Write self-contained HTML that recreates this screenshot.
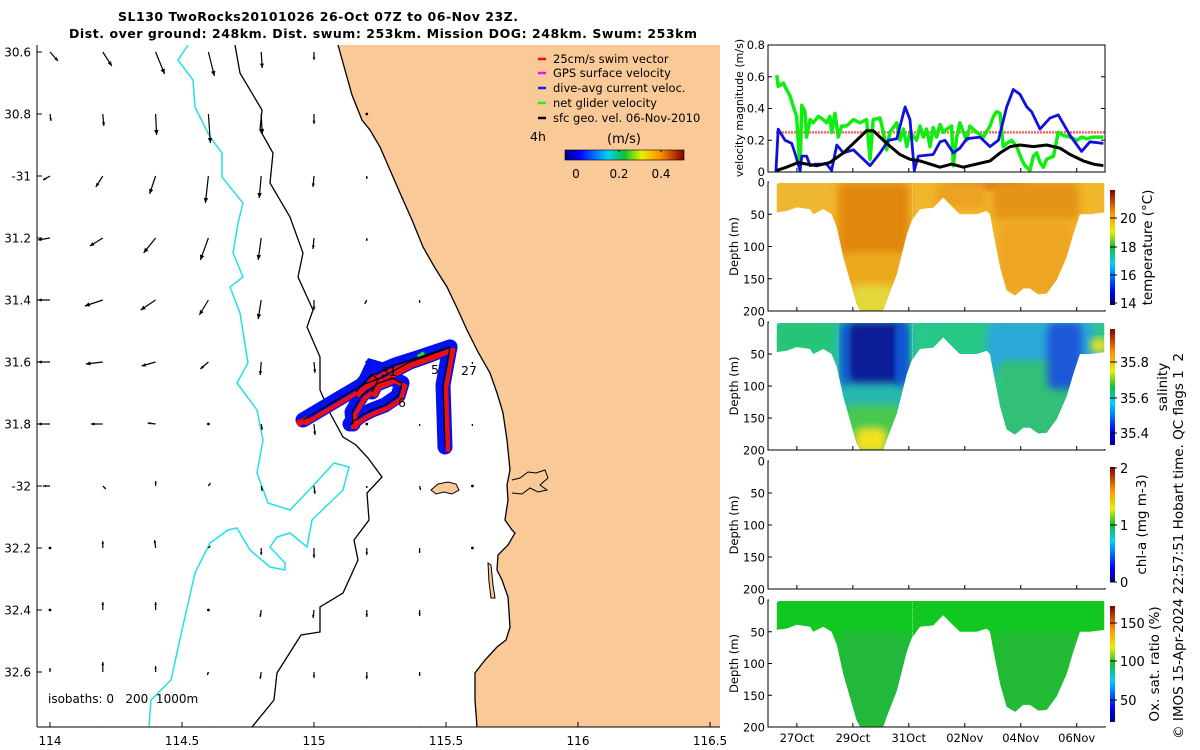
<!DOCTYPE html>
<html><head><meta charset="utf-8"><title>SL130 glider</title>
<style>
html,body{margin:0;padding:0;background:#fff;}
svg{display:block;font-family:"DejaVu Sans","Liberation Sans",sans-serif;}
</style></head>
<body>
<svg id="fig" xmlns="http://www.w3.org/2000/svg" width="1200" height="750" viewBox="0 0 1200 750">
<defs>
  <filter id="blur3" x="-20%" y="-20%" width="140%" height="140%"><feGaussianBlur stdDeviation="4"/></filter>
  <linearGradient id="jetV" x1="0" y1="1" x2="0" y2="0">
    <stop offset="0" stop-color="#00007f"/><stop offset="0.12" stop-color="#0000ff"/>
    <stop offset="0.36" stop-color="#00d0ff"/><stop offset="0.5" stop-color="#10c030"/>
    <stop offset="0.64" stop-color="#e8f000"/><stop offset="0.8" stop-color="#ff9000"/>
    <stop offset="1" stop-color="#800000"/>
  </linearGradient>
  <linearGradient id="jetH" x1="0" y1="0" x2="1" y2="0">
    <stop offset="0" stop-color="#00007f"/><stop offset="0.12" stop-color="#0000ff"/>
    <stop offset="0.36" stop-color="#00d0ff"/><stop offset="0.5" stop-color="#10c030"/>
    <stop offset="0.64" stop-color="#e8f000"/><stop offset="0.8" stop-color="#ff9000"/>
    <stop offset="1" stop-color="#800000"/>
  </linearGradient>
</defs>
<text x="318" y="21" font-size="12.5" font-weight="bold" text-anchor="middle" textLength="400">SL130 TwoRocks20101026 26-Oct 07Z to 06-Nov 23Z.</text>
<text x="383" y="38" font-size="12.5" font-weight="bold" text-anchor="middle" textLength="628">Dist. over ground: 248km. Dist. swum: 253km. Mission DOG: 248km. Swum: 253km</text>
<g id="map"></g>
<g id="right"></g>
</svg>
<script>
// ---------------- MAP DATA ----------------
const lonTicks = [114, 114.5, 115, 115.5, 116, 116.5];
const lonTickLabels = ["114", "114.5", "115", "115.5", "116", "116.5"];
const latTicks = [30.6, 30.8, 31.0, 31.2, 31.4, 31.6, 31.8, 32.0, 32.2, 32.4, 32.6];
const latTickLabels = ["30.6", "30.8", "-31", "31.2", "31.4", "31.6", "31.8", "-32", "32.2", "32.4", "32.6"];
const gridLons = [114, 114.2, 114.4, 114.6, 114.8, 115, 115.2, 115.4, 115.6];
const gridLats = [30.6, 30.8, 31.0, 31.2, 31.4, 31.6, 31.8, 32.0, 32.2, 32.4, 32.6, 32.78];
const gridU = [
 [8, 9, 9, 6, 1, 0, null, null, null],
 [1, 1, 1, 2, 1, 0, 0, null, null],
 [-7, -7, -6, -3, -2, -1, 0, null, null],
 [-12, -13, -12, -8, -3, -1, 0, null, null],
 [-12, -18, -15, -9, -3, 0, -2, 0, null],
 [-12, -17, -14, -8, -1, 1, 0, 0, 0],
 [-12, -12, -8, 0, 1, 1, 0, 0, 0],
 [-7, 3, 0, 2, 1, 1, 0, 1, 0],
 [0, 0, -1, 2, 0, 0, 0, 0, 0],
 [0, 0, 0, 0, -1, -1, 0, 0, null],
 [0, 0, 0, -1, -1, 0, 0, 0, null],
 [0, 0, 0, 0, 0, 0, 0, 0, null]
];
const gridV = [
 [-9, -14, -22, -24, -16, -8, null, null, null],
 [-7, -12, -21, -29, -20, -10, -1, null, null],
 [-4, -11, -18, -27, -22, -11, -3, null, null],
 [-2, -8, -15, -22, -22, -11, -3, null, null],
 [0, -6, -10, -15, -19, -10, -4, -3, null],
 [0, -2, -4, -7, -13, -11, 0, -2, -2],
 [0, 0, 1, -1, -6, -11, 0, -2, -2],
 [0, -3, 5, 3, -5, -8, -2, -4, -1],
 [-1, 7, 8, 2, -7, -10, -7, -5, -1],
 [-1, 8, 8, -1, -7, -8, -7, -6, null],
 [4, 10, 6, -3, -7, -6, -7, -4, null],
 [-1, -1, 0, 0, 0, 0, 0, 0, null]
];
// ---------------- VELOCITY PANEL DATA ----------------
const blueDays = [-0.56,-0.48,-0.24,-0.01,0.10,0.28,0.34,0.51,0.63,0.80,1.21,1.38,1.56,1.79,2.14,2.37,2.72,3.07,3.36,3.65,3.94,4.11,4.26,4.40,4.92,5.16,5.33,5.62,5.85,6.09,6.55,6.90,7.19,7.48,7.71,7.94,8.18,8.35,8.64,8.99,9.28,9.69,10.09,10.38,10.85];
const blueVals = [0,0.27,0.20,0.18,0.12,0.01,0.10,0.10,0.04,0.05,0.05,0.01,0.17,0.12,0.14,0.10,0.04,0.12,0.20,0.21,0.41,0.33,0.01,0.10,0.11,0.19,0.20,0.12,0.15,0.21,0.22,0.16,0.20,0.41,0.52,0.49,0.41,0.38,0.27,0.34,0.36,0.23,0.13,0.19,0.18];
const blackDays = [-0.53,-0.19,0.22,0.51,0.86,1.32,1.79,2.37,2.60,2.83,3.30,3.76,4.11,4.46,4.81,5.16,5.56,5.97,6.43,6.90,7.25,7.60,7.94,8.41,8.87,9.34,9.69,10.15,10.50,10.85];
const blackVals = [0.01,0.03,0.06,0.05,0.04,0.06,0.12,0.22,0.26,0.26,0.18,0.11,0.08,0.07,0.05,0.03,0.05,0.03,0.05,0.07,0.12,0.16,0.17,0.16,0.17,0.15,0.11,0.07,0.05,0.04];
const greenDays = [-0.53,-0.48,-0.30,-0.19,-0.07,0.05,0.16,0.28,0.34,0.45,0.51,0.63,0.74,0.92,1.09,1.21,1.32,1.38,1.50,1.61,1.73,1.90,2.14,2.37,2.60,2.72,2.83,3.07,3.18,3.30,3.41,3.65,3.76,3.88,4.00,4.11,4.34,4.46,4.58,4.69,4.81,4.92,5.04,5.16,5.27,5.39,5.56,5.62,5.74,5.85,5.97,6.09,6.20,6.43,6.67,6.90,7.02,7.13,7.25,7.36,7.48,7.65,7.83,8.00,8.12,8.29,8.41,8.53,8.64,8.76,8.87,9.11,9.28,9.46,9.69,9.92,10.09,10.26,10.50,10.85];
const greenVals = [0.61,0.54,0.56,0.52,0.48,0.41,0.35,0.01,0.42,0.38,0.22,0.33,0.31,0.35,0.33,0.31,0.35,0.25,0.37,0.22,0.29,0.29,0.33,0.31,0.33,0.08,0.33,0.34,0.25,0.14,0.25,0.31,0.20,0.27,0.16,0.25,0.20,0.29,0.22,0.27,0.16,0.28,0.22,0.30,0.25,0.27,0.29,0.04,0.22,0.31,0.25,0.20,0.29,0.25,0.22,0.29,0.35,0.38,0.37,0.16,0.18,0.20,0.16,0.08,0.04,0.01,0.10,0.12,0.06,0.03,0.08,0.10,0.25,0.23,0.22,0.20,0.22,0.21,0.22,0.22];
const swimSpeed = [0.25];
const velTicks = [0, 0.2, 0.4, 0.6, 0.8];
const velTickLabels = ["0", "0.2", "0.4", "0.6", "0.8"];
const dateTicks = [0.17, 2.12, 4.07, 6.02, 7.97, 9.92];
const dateLabels = ["27Oct", "29Oct", "31Oct", "02Nov", "04Nov", "06Nov"];
const depthTicks = [0, 50, 100, 150, 200];
const envDays = [-0.53,-0.19,0.16,0.63,0.74,1.09,1.38,1.56,1.79,2.02,2.25,2.37,3.18,3.30,3.65,4.00,4.17,4.46,4.92,5.27,5.62,5.85,6.43,6.78,6.90,7.02,7.25,7.48,7.77,8.06,8.29,8.58,8.87,9.22,9.57,9.80,10.03,10.38,10.91];
const envDepth = [47,45,39,42,50,42,50,70,117,153,189,199,199,184,143,81,60,42,40,24,40,50,50,45,50,80,132,168,176,165,165,174,173,152,116,81,50,50,47];

const NS = "http://www.w3.org/2000/svg";
function mk(tag, attrs, parent){ const e = document.createElementNS(NS, tag); for (const k in attrs) e.setAttribute(k, attrs[k]); parent.appendChild(e); return e; }
function txt(s, attrs, parent){ const e = mk("text", attrs, parent); e.textContent = s; return e; }

// ---------------- MAP ----------------
const map = document.getElementById("map");
const lonX = lon => 50 + (lon - 114) * 264;
const latY = lat => 52 + (lat - 30.6) * 310;
const MX0 = 37, MX1 = 720, MY0 = 45, MY1 = 727;
let el;
el = mk("rect", {x:MX0, y:MY0, width:MX1-MX0, height:MY1-MY0, fill:"#fff"}, map);


const cpm = mk("clipPath", {id:"mapclip"}, map);
mk("rect", {x:MX0, y:MY0, width:MX1-MX0, height:MY1-MY0}, cpm);
const mg = mk("g", {"clip-path":"url(#mapclip)"}, map);

const coast = [[338,45],[345,70],[352,95],[362,120],[370,130],[380,147],[390,170],[400,193],[412,220],[423,247],[435,268],[447,287],[457,308],[467,330],[478,352],[490,373],[497,393],[503,413],[507,440],[510,470],[507,485],[508,500],[505,520],[512,530],[515,533],[508,545],[498,555],[497,570],[502,580],[508,597],[510,627],[506,640],[497,647],[485,660],[475,673],[475,700],[477,727]];
const landPts = coast.concat([[720,727],[720,45]]).map(p=>p.join(",")).join(" ");
el = mk("polygon", {points:landPts, fill:"#f9c997", stroke:"none"}, mg);


el = mk("polyline", {points:coast.map(p=>p.join(",")).join(" "), fill:"none", stroke:"#000", "stroke-width":1.3}, mg);


el = mk("polyline", {points:"512,480 520,478 528,472 536,473 545,470 548,478 540,485 547,490 538,492 530,488 522,494 512,493", fill:"#f9c997", stroke:"#000", "stroke-width":1}, mg);


el = mk("polygon", {points:"431,490 438,484 448,482 456,484 459,490 452,494 444,492 436,494", fill:"#f9c997", stroke:"#000", "stroke-width":1}, mg);


el = mk("polygon", {points:"488,563 491,565 493,585 495,598 491,598 489,582", fill:"#f9c997", stroke:"#000", "stroke-width":1}, mg);



const iso1000 = [[188,45],[178,60],[193,80],[195,107],[210,137],[222,153],[222,177],[243,203],[238,223],[233,253],[243,277],[230,287],[240,313],[248,363],[237,383],[257,410],[263,440],[257,473],[268,503],[290,510],[312,487],[334,463],[349,467],[343,490],[312,520],[307,547],[290,533],[277,537],[270,547],[285,563],[285,570],[270,567],[250,550],[237,528],[228,530],[210,543],[195,573],[182,630],[171,680],[151,700],[149,727]];
el = mk("polyline", {points:iso1000.map(p=>p.join(",")).join(" "), fill:"none", stroke:"#22e0e8", "stroke-width":1.5}, mg);


const iso200 = [[235,45],[240,73],[262,110],[260,130],[273,153],[270,183],[290,217],[303,253],[298,277],[313,310],[307,327],[320,357],[320,390],[330,413],[343,437],[356,445],[368,458],[382,477],[367,493],[369,520],[354,540],[358,560],[343,593],[320,607],[320,632],[301,635],[277,673],[274,700],[252,727]];
el = mk("polyline", {points:iso200.map(p=>p.join(",")).join(" "), fill:"none", stroke:"#000", "stroke-width":1.3}, mg);



const arrows = mk("g", {}, mg);


for (let r = 0; r < gridLats.length; r++) {
  for (let c = 0; c < gridLons.length; c++) {
    const u = gridU[r][c], v = gridV[r][c];
    if (u === null) continue;
    const x0 = lonX(gridLons[c]), y0 = latY(gridLats[r]);
    const x1 = x0 + u, y1 = y0 - v;
    const len = Math.hypot(u, v);
    const g = mk("g", {}, arrows);
    
    
    if (len < 2) { mk("circle", {cx:x0, cy:y0, r:1.4, fill:"#000"}, g); continue; }
    mk("line", {x1:x0, y1:y0, x2:x1, y2:y1, stroke:"#000", "stroke-width":1.2}, g);
    const hs = Math.min(5, 1.5 + len * 0.18), ux = u/len, uy = -v/len;
    const bx = x1 - ux*hs, by = y1 - uy*hs;
    mk("polygon", {points:`${x1},${y1} ${bx - uy*hs*0.45},${by + ux*hs*0.45} ${bx + uy*hs*0.45},${by - ux*hs*0.45}`, fill:"#000"}, g);
  }
}

// glider track
const trk = mk("g", {}, mg);


const spines = [
  "303,420 340,398 362,385 380,378 410,362 430,355 450,347",
  "368,378 383,370 395,365 420,357 450,347",
  "450,347 443,385 445,447",
  "350,424 362,415 372,410 385,405 398,396 402,383 392,378 377,384 362,395 352,412 353,424",
  "356,392 366,380 372,374 378,380 372,392"
];
el = mk("polygon", {points:"352,392 368,358 382,362 372,392", fill:"#0010ee"}, trk);

spines.forEach(s => { el = mk("polyline", {points:s, fill:"none", stroke:"#0010ee", "stroke-width":15, "stroke-linejoin":"round", "stroke-linecap":"round"}, trk);  });
spines.forEach(s => { el = mk("polyline", {points:s, fill:"none", stroke:"#ee1010", "stroke-width":4.5, "stroke-linejoin":"round", "stroke-linecap":"round", transform:"translate(3,3)"}, trk);  });
el = mk("polyline", {points:"297,424 308,419", fill:"none", stroke:"#ee1010", "stroke-width":6}, trk);

el = mk("polyline", {points:"418,357 424,353", fill:"none", stroke:"#20e020", "stroke-width":4}, trk);

spines.forEach(s => { el = mk("polyline", {points:s, fill:"none", stroke:"#000", "stroke-width":1.2}, trk);  });
[["31",381,376],["6",398,407],["27",461,375],["5",431,374]].forEach(t => {
  el = txt(t[0], {x:t[1], y:t[2], "font-size":12.5, fill:"#000"}, mg);
  
  
});

// legend
const leg = mk("g", {}, map);


const legItems = [["25cm/s swim vector","#ee1010",63],["GPS surface velocity","#ee10ee",77],["dive-avg current veloc.","#1020ee",92],["net glider velocity","#20ee20",107],["sfc geo. vel. 06-Nov-2010","#000",122]];
legItems.forEach(it => {
  const g = mk("g", {}, leg);
  
  
  mk("line", {x1:538, y1:it[2]-4, x2:546, y2:it[2]-4, stroke:it[1], "stroke-width":2.5}, g);
  txt(it[0], {x:553, y:it[2], "font-size":11.5, fill:"#000"}, g);
});
el = txt("4h", {x:530, y:141, "font-size":12.5}, map);


el = txt("(m/s)", {x:624, y:143, "font-size":13, "text-anchor":"middle"}, map);


el = mk("rect", {x:565, y:150, width:119, height:10, fill:"url(#jetH)", stroke:"#000", "stroke-width":0.6}, map);


[["0",576],["0.2",619],["0.4",661]].forEach(t => {
  mk("line", {x1:t[1], y1:150, x2:t[1], y2:152, stroke:"#000"}, map);
  el = txt(t[0], {x:t[1], y:178, "font-size":12, "text-anchor":"middle"}, map);
  
  
});
el = txt("isobaths: 0\u00a0\u00a0 200\u00a0 1000m", {x:48, y:703, "font-size":12}, map);



mk("line", {x1:MX0, y1:MY0, x2:MX0, y2:MY1, stroke:"#000", "stroke-width":1}, map);
mk("line", {x1:MX0, y1:MY1, x2:MX1, y2:MY1, stroke:"#000", "stroke-width":1}, map);
latTicks.forEach((lat,i) => {
  const y = latY(lat);
  mk("line", {x1:MX0, y1:y, x2:MX0+5, y2:y, stroke:"#000"}, map);
  el = txt(latTickLabels[i], {x:31, y:y+4.5, "font-size":12, "text-anchor":"end"}, map);
  
  
});
lonTicks.forEach((lon,i) => {
  const x = lonX(lon);
  mk("line", {x1:x, y1:MY1, x2:x, y2:MY1-5, stroke:"#000"}, map);
  el = txt(lonTickLabels[i], {x:x, y:745, "font-size":12, "text-anchor":"middle"}, map);
  
  
});

// ---------------- RIGHT PANELS ----------------
const R = document.getElementById("right");
const PX0 = 768, PX1 = 1105;
const dX = d => 792 + 28.7 * d;
const panels = [
  {top:45, bot:172}, {top:182, bot:311}, {top:322, bot:450}, {top:461, bot:589}, {top:600, bot:727}
];
const velY = v => panels[0].bot - v / 0.8 * (panels[0].bot - panels[0].top);

function frame(p, name) {
  el = mk("rect", {x:PX0, y:p.top, width:PX1-PX0, height:p.bot-p.top, fill:"none", stroke:"#000", "stroke-width":1}, R);
  
  
}
const vp = panels[0];
const vg = mk("g", {}, R);


function series(days, vals, color, w, name) {
  const pts = days.map((d,i) => dX(d).toFixed(1) + "," + velY(vals[i]).toFixed(1)).join(" ");
  el = mk("polyline", {points:pts, fill:"none", stroke:color, "stroke-width":w, "stroke-linejoin":"round"}, vg);
  
  
}
el = mk("line", {x1:dX(-0.56), y1:velY(swimSpeed[0]), x2:dX(10.9), y2:velY(swimSpeed[0]), stroke:"#ff6060", "stroke-width":2.5, "stroke-dasharray":"2,1"}, vg);


series(greenDays, greenVals, "#10ee10", 3.5, "net-glider-velocity-series");
series(blueDays, blueVals, "#1010e0", 2.8, "dive-avg-current-series");
series(blackDays, blackVals, "#000", 3, "geostrophic-velocity-series");
frame(vp, "velocity-axes");
velTicks.forEach((v,i) => {
  const y = velY(v);
  mk("line", {x1:PX0, y1:y, x2:PX0+4, y2:y, stroke:"#000"}, R);
  mk("line", {x1:PX1, y1:y, x2:PX1-4, y2:y, stroke:"#000"}, R);
  el = txt(velTickLabels[i], {x:765, y:y+4, "font-size":11.5, "text-anchor":"end"}, R);
  
  
});
el = txt("velocity magnitude (m/s)", {x:0, y:0, "font-size":11, "text-anchor":"middle", transform:"translate(743,108) rotate(-90)"}, R);



function envClip(id, p) {
  const dY = z => p.top + z / 200 * (p.bot - p.top);
  const pts = [[dX(envDays[0]), p.top + 1], [dX(envDays[envDays.length-1]), p.top + 1]];
  for (let i = envDays.length - 1; i >= 0; i--) pts.push([dX(envDays[i]), dY(envDepth[i])]);
  const cp = mk("clipPath", {id:id}, R);
  mk("polygon", {points:pts.map(q=>q[0].toFixed(1)+","+q[1].toFixed(1)).join(" ")}, cp);
  return dY;
}
function blob(g, d0, d1, z0, z1, color, dY, blur) {
  const a = {x:dX(d0), y:dY(z0), width:dX(d1)-dX(d0), height:dY(z1)-dY(z0), fill:color, rx:8};
  if (blur) a.filter = "url(#blur3)";
  return mk("rect", a, g);
}
const tempBlobs = [[-0.6,11,0,200,"#f2b62a"],[1.6,4.1,0,115,"#e0880f"],[1.8,3.9,110,160,"#eca81e"],[2.1,3.5,160,205,"#e2d83a"],[5.4,8.2,0,12,"#d0661a"],[7.0,10.0,0,60,"#e49418"],[7.2,9.8,60,175,"#eea620"],[5.0,6.8,0,40,"#eca222"],[-0.6,1.4,0,50,"#f0b832"]];
const salBlobs = [[-0.6,11,0,200,"#30c490"],[-0.6,1.6,0,50,"#28c478"],[1.5,4.3,0,200,"#28b8b0"],[1.9,4.0,0,95,"#0c1a98"],[1.7,2.0,0,100,"#1050d8"],[3.6,4.0,0,100,"#1060e0"],[1.8,3.9,130,200,"#48c850"],[2.2,3.3,165,205,"#f2e020"],[4.3,7.0,0,55,"#28c888"],[6.8,10.5,0,80,"#2aa8d8"],[7.2,10.2,60,180,"#30c078"],[8.9,10.1,0,105,"#1c58d8"],[10.4,11,25,48,"#f0e020"]];
const oxyBlobs = [[-0.6,11,0,200,"#10c820"],[1.6,4.1,50,200,"#22b83a"],[7.0,10.0,50,180,"#22ba36"]];
function section(p, blobs, name, idn) {
  const dY = envClip(idn, p);
  const g = mk("g", {"clip-path":"url(#"+idn+")"}, R);
  
  
  blobs.forEach((b,i) => blob(g, b[0], b[1], b[2], b[3], b[4], dY, i > 0));
  mk("line", {x1:dX(4.2), y1:p.top, x2:dX(4.2), y2:p.bot, stroke:"#fff", "stroke-width":0.8, "stroke-dasharray":"1,1", opacity:0.7}, g);
}
section(panels[1], tempBlobs, "temperature-section", "clipT");
section(panels[2], salBlobs, "salinity-section", "clipS");
section(panels[4], oxyBlobs, "oxygen-section", "clipO");

[1,2,3,4].forEach(k => {
  const p = panels[k];
  frame(p, "section-axes");
  depthTicks.forEach(z => {
    const y = p.top + z/200*(p.bot-p.top);
    mk("line", {x1:PX0, y1:y, x2:PX0+4, y2:y, stroke:"#000"}, R);
    el = txt(String(z), {x:765, y:y+4.5, "font-size":11.5, "text-anchor":"end"}, R);
    
    
  });
  el = txt("Depth (m)", {x:0, y:0, "font-size":11.5, "text-anchor":"middle", transform:`translate(738,${(p.top+p.bot)/2}) rotate(-90)`}, R);
  
  
});
[1,2,3,4].forEach(k => {
  const p = panels[k];
  mk("line", {x1:PX0+1, y1:p.top, x2:PX1+1, y2:p.top, stroke:"#fff", "stroke-width":1.5}, R);
  mk("line", {x1:PX1, y1:p.top, x2:PX1, y2:p.bot-1, stroke:"#fff", "stroke-width":1.5}, R);
});
dateTicks.forEach((d,i) => {
  const x = dX(d);
  panels.forEach(p => mk("line", {x1:x, y1:p.bot, x2:x, y2:p.bot-4, stroke:"#000"}, R));
  el = txt(dateLabels[i], {x:x, y:742, "font-size":11.5, "text-anchor":"middle"}, R);
  
  
});

const cbs = [
  {y0:190, y1:305, ticks:[["20",218],["18",247],["16",275],["14",303]], title:"temperature (°C)", tx:1152, name:"temperature-colorbar"},
  {y0:329, y1:445, ticks:[["35.8",362],["35.6",398],["35.4",433]], title:"salinity", tx:1167, name:"salinity-colorbar"},
  {y0:467, y1:582, ticks:[["2",468],["1",525],["0",582]], title:"chl-a (mg m-3)", tx:1146, name:"chlorophyll-colorbar"},
  {y0:606, y1:722, ticks:[["150",623],["100",661],["50",700]], title:"Ox. sat. ratio (%)", tx:1159, name:"oxygen-colorbar"}
];
cbs.forEach(c => {
  el = mk("rect", {x:1110, y:c.y0, width:5, height:c.y1-c.y0, fill:"url(#jetV)"}, R);
  
  
  c.ticks.forEach(t => {
    mk("line", {x1:1110, y1:t[1], x2:1117, y2:t[1], stroke:"#000"}, R);
    el = txt(t[0], {x:1120, y:t[1]+5, "font-size":13}, R);
    
    
  });
  el = txt(c.title, {x:0, y:0, "font-size":13.5, "text-anchor":"middle", transform:`translate(${c.tx},${(c.y0+c.y1)/2}) rotate(-90)`}, R);
  
  
});
el = txt("© IMOS 15-Apr-2024 22:57:51 Hobart time. QC flags 1\u00a0 2", {x:0, y:0, "font-size":13.5, "text-anchor":"middle", transform:"translate(1183,546) rotate(-90)"}, R);


</script>
</body></html>
